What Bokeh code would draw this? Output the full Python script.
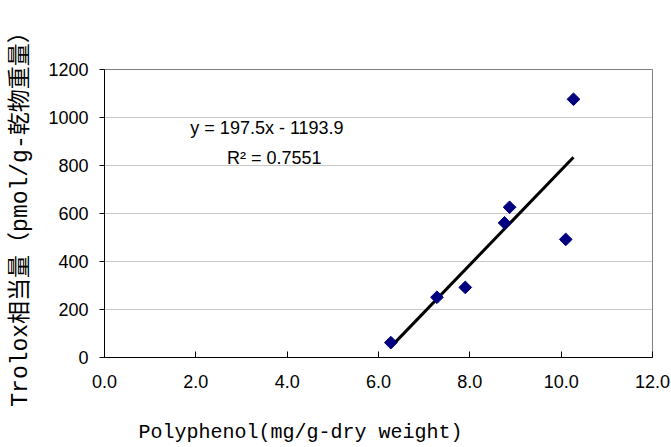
import numpy as np
from bokeh.plotting import figure
from bokeh.models import Label, NumeralTickFormatter, FixedTicker, Range1d
from bokeh.embed import file_html
from bokeh.resources import INLINE

# ---- data ----
polyphenol = [6.27, 7.28, 7.90, 8.76, 8.87, 10.10, 10.27]
trolox = [62, 251, 292, 561, 626, 492, 1076]
slope = 197.5
intercept = -1193.9
r_squared = 0.7551
x_ticks = [0, 2, 4, 6, 8, 10, 12]
y_ticks = [0, 200, 400, 600, 800, 1000, 1200]
x_title = "Polyphenol(mg/g-dry weight)"
y_title = "Trolox相当量（pmol/g-乾物重量）"

sans = "Liberation Sans"
title_font = "'Liberation Mono', 'Noto Sans CJK JP'"

p = figure(width=671, height=447, x_range=Range1d(0, 12), y_range=Range1d(0, 1200),
           output_backend="svg", toolbar_location=None,
           min_border_left=104, min_border_right=19, min_border_top=69, min_border_bottom=90)
p.background_fill_color = "white"
p.border_fill_color = "white"
p.outline_line_color = "#808080"
p.xgrid.visible = False
p.ygrid.grid_line_color = "#c8c8c8"
p.ygrid.grid_line_width = 1

p.xaxis.ticker = FixedTicker(ticks=x_ticks)
p.xaxis.formatter = NumeralTickFormatter(format="0.0")
p.yaxis.ticker = FixedTicker(ticks=y_ticks)
p.yaxis.formatter = NumeralTickFormatter(format="0")
for ax in (p.xaxis, p.yaxis):
    ax.axis_line_color = "black"
    ax.axis_line_width = 1
    ax.major_tick_line_color = "black"
    ax.minor_tick_line_color = None
    ax.major_label_text_font = sans
    ax.major_label_text_font_size = "18px"
    ax.major_label_text_color = "black"
    ax.axis_label_text_font = title_font
    ax.axis_label_text_font_style = "normal"
    ax.axis_label_text_color = "black"
p.xaxis.major_tick_in = 6
p.xaxis.major_tick_out = 0
p.xaxis.major_label_standoff = 17
p.yaxis.major_tick_in = 0
p.yaxis.major_tick_out = 5
p.yaxis.major_label_standoff = 11

p.yaxis.axis_label = y_title
p.yaxis.axis_label_text_font_size = "23px"
p.yaxis.axis_label_standoff = 11

# title sits left of centre in the reference: pad with no-break spaces
p.xaxis.axis_label = x_title + "\u00a0" * 13
p.xaxis.axis_label_text_font_size = "20px"
p.xaxis.axis_label_standoff = 30

# trendline from fitted equation over data range
xs = np.array([min(polyphenol), max(polyphenol)])
ys = slope * xs + intercept
p.line(xs, ys, line_color="black", line_width=3)

p.scatter(polyphenol, trolox, marker="square", size=9, angle=np.pi / 4,
          fill_color="#000080", line_color="#000080")

eq_text = f"y = {slope}x - {abs(intercept)}"
r2_text = f"R² = {r_squared}"
p.add_layout(Label(x=1.88, y=955, text=eq_text, text_font=sans, text_font_size="18px",
                   text_baseline="middle", text_align="left", text_color="black"))
p.add_layout(Label(x=2.68, y=830, text=r2_text, text_font=sans, text_font_size="18px",
                   text_baseline="middle", text_align="left", text_color="black"))

open("out.html", "w").write(file_html(p, INLINE))
